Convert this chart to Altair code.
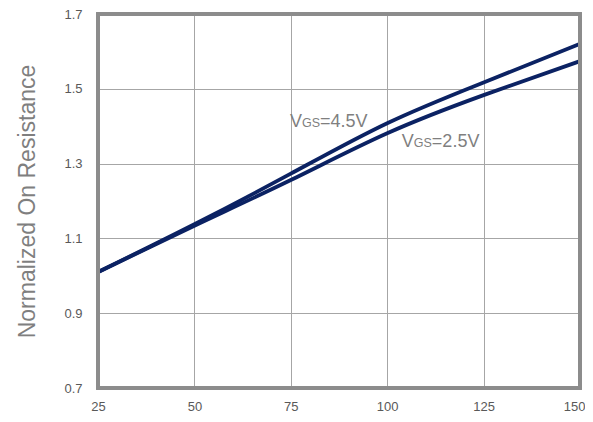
import altair as alt
import pandas as pd

temps = [25, 50, 75, 100, 125, 150]
vgs45 = [1.010, 1.138, 1.273, 1.408, 1.517, 1.620]
vgs25 = [1.010, 1.134, 1.256, 1.381, 1.483, 1.574]
x_ticks = [25, 50, 75, 100, 125, 150]
y_ticks = [0.7, 0.9, 1.1, 1.3, 1.5, 1.7]

rows = []
for t, v in zip(temps, vgs45):
    rows.append({"T": t, "R": v, "s": "4.5"})
for t, v in zip(temps, vgs25):
    rows.append({"T": t, "R": v, "s": "2.5"})
df = pd.DataFrame(rows)

FONT = "Liberation Sans"
GRAY = "#7f7f7f"

x = alt.X("T:Q", scale=alt.Scale(domain=[25, 150], nice=False),
          axis=alt.Axis(values=x_ticks, title=None, grid=True, ticks=False,
                        domain=False, labelPadding=12, labelFontSize=13,
                        labelColor="#595959", labelFont=FONT, labelFlush=False,
                        labelOverlap=False,
                        labelAlign={"condition": {"test": "datum.value == 150", "value": "right"},
                                    "value": "center"},
                        labelOffset={"condition": {"test": "datum.value == 150", "value": 5},
                                     "value": 0},
                        gridColor="#a6a6a6", gridWidth=1))
y = alt.Y("R:Q", scale=alt.Scale(domain=[0.7, 1.7], nice=False),
          axis=alt.Axis(values=y_ticks, title="Normalized On Resistance",
                        format=".1f", grid=True, ticks=False, domain=False,
                        labelPadding=16, labelFontSize=13, labelColor="#595959",
                        labelFont=FONT, titleFont=FONT, titleFontSize=23,
                        titleFontWeight="normal", titleColor=GRAY,
                        titlePadding=24, gridColor="#a6a6a6", gridWidth=1))

lines = alt.Chart(df).mark_line(interpolate="natural", strokeWidth=3.8,
                                color="#0b2263").encode(x=x, y=y, detail="s:N")

frame = alt.Chart(df).mark_rect(fill=None, stroke="#8c8c8c", strokeWidth=3).encode(
    x=alt.value(0), x2=alt.value(482), y=alt.value(0), y2=alt.value(374))

ann = pd.DataFrame([
    {"T": 74.8, "R": 1.398, "big1": "V", "small": "GS", "big2": "=4.5V"},
    {"T": 103.8, "R": 1.344, "big1": "V", "small": "GS", "big2": "=2.5V"},
])
base = alt.Chart(ann).encode(x="T:Q", y="R:Q")
t1 = base.mark_text(align="left", baseline="alphabetic", fontSize=18,
                    font=FONT, color=GRAY).encode(text="big1:N")
t2 = base.mark_text(align="left", baseline="alphabetic", fontSize=12.5,
                    font=FONT, color=GRAY, dx=12).encode(text="small:N")
t3 = base.mark_text(align="left", baseline="alphabetic", fontSize=18,
                    font=FONT, color=GRAY, dx=30).encode(text="big2:N")

chart = (lines + frame + t1 + t2 + t3).properties(
    width=482, height=374,
    autosize=alt.AutoSizeParams(type="none"),
    padding={"left": 90, "top": 6, "right": 5, "bottom": 30},
).configure_view(stroke=None).configure(background="white")

chart.save("out.html", embed_options={"renderer": "svg", "actions": False})
